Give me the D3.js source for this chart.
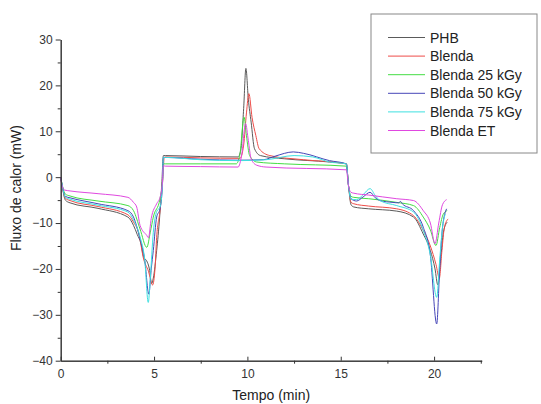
<!DOCTYPE html>
<html>
<head>
<meta charset="utf-8">
<script src="https://cdn.jsdelivr.net/npm/d3@7"></script>
<style>
  body { margin: 0; background: #fff; }
  svg { font-family: "Liberation Sans", Arial, sans-serif; }
</style>
</head>
<body>
<svg id="chart" width="541" height="404"></svg>
<script>
// DSC curves, [tempo (min), fluxo (mW)]
const phb = [[0,0],[0.1,-2.5],[0.25,-5.0],[0.5,-5.6],[2,-6.8],[3.6,-8.7],[3.9,-10.5],[4.1,-12.5],[4.3,-14.5],[4.45,-17.5],[4.6,-18.2],[4.75,-20],[4.87,-23.2],[4.96,-22],[5.14,-16],[5.3,-8.7],[5.42,-1],[5.5,4.7],
  [5.6,4.7],[7.5,4.5],[9.5,4.4],[9.65,6],[9.8,15],[9.92,23.7],[10.05,17],[10.2,12],[10.38,6.2],[10.7,4.7],[12,4],[14.4,3.3],[15.3,2.9],
  [15.42,-2],[15.55,-6],[15.7,-6.5],[16.5,-6.9],[18,-7.4],[18.9,-8.7],[19.42,-12.4],[19.8,-16],[20.05,-20],[20.2,-23.5],[20.35,-18],[20.5,-12],[20.7,-9.8]];
const blenda = [[0,0],[0.1,-2.3],[0.25,-4.6],[0.5,-5.1],[2,-6.4],[3.6,-8.2],[3.9,-9.8],[4.2,-12.5],[4.42,-17.5],[4.7,-20.5],[4.92,-23.5],[5.05,-20],[5.14,-13.1],[5.32,-7.3],[5.45,-1.5],[5.55,4.3],
  [5.65,4.4],[7.5,4.2],[9.6,4.1],[9.8,7],[9.95,14],[10.08,18.2],[10.25,13],[10.45,9.1],[10.63,6.2],[11.2,4.7],[13,3.8],[15.3,2.9],
  [15.42,-2],[15.55,-5.5],[15.7,-5.8],[16.5,-6.3],[18,-6.9],[18.9,-8.4],[19.42,-11.6],[19.8,-15],[20.1,-19],[20.28,-22],[20.42,-16],[20.55,-11],[20.75,-9.1]];
const blenda25 = [[0,0],[0.1,-2],[0.25,-3.7],[0.5,-4.1],[2,-5.2],[3.6,-6.2],[3.9,-7.3],[4.25,-11.3],[4.61,-15.3],[4.8,-12],[4.96,-8.7],[5.32,-4.7],[5.45,-1],[5.5,2.9],
  [5.6,2.9],[7.5,2.9],[9.4,2.9],[9.6,5],[9.82,13.1],[9.95,9],[10.12,4.7],[10.5,3.3],[12,2.9],[15.3,2.4],
  [15.42,-2],[15.55,-4.2],[15.7,-4.4],[16.5,-4.7],[18,-5.5],[18.9,-6.2],[19.42,-8.7],[19.8,-11.5],[20.1,-14.9],[20.3,-11],[20.5,-8],[20.7,-7.3]];
const blenda50 = [[0,0],[0.1,-2.2],[0.25,-4.2],[0.5,-4.5],[2,-5.8],[3.6,-7.3],[3.9,-8.7],[4.25,-13.5],[4.5,-18],[4.72,-25.5],[4.85,-20],[4.96,-16],[5.14,-8.7],[5.32,-6.9],[5.45,-1.5],[5.5,4.3],
  [5.6,4.3],[7.5,3.9],[9.5,3.7],[10.85,3.8],[11.5,4.6],[12.46,5.5],[13,5.2],[14.4,3.6],[15.3,2.9],
  [15.42,-2],[15.55,-4.7],[15.85,-5.2],[16.2,-4.3],[16.57,-3.3],[16.85,-4.5],[17.1,-5.1],[17.8,-5.5],[18.1,-5.6],[18.2,-5.3],[18.3,-5.8],[18.9,-7.3],[19.42,-10.9],[19.8,-17],[20.14,-32],[20.3,-20],[20.45,-11],[20.67,-6.9]];
const blenda75 = [[0,0],[0.1,-2.2],[0.25,-4.4],[0.5,-4.8],[2,-6.1],[3.6,-7.6],[3.9,-9.3],[4.25,-13],[4.5,-18],[4.69,-27.3],[4.8,-22],[4.96,-12],[5.14,-7.5],[5.32,-6.5],[5.45,-1.5],[5.5,4.3],
  [5.6,4.3],[7.5,3.8],[9.5,3.6],[11,3.8],[12.5,4.7],[13.5,4.4],[14.4,3.3],[15.3,2.9],
  [15.42,-2],[15.55,-4.8],[15.85,-4.9],[16.2,-3.8],[16.57,-2.5],[16.85,-4],[17.1,-5.1],[18,-6.2],[18.9,-7.6],[19.42,-11.6],[19.8,-17],[20.14,-26.2],[20.3,-18],[20.45,-11],[20.6,-8]];
const blendaET = [[0,0],[0.05,-1.5],[0.2,-2.8],[0.5,-3.0],[2,-3.6],[3.6,-4.4],[3.9,-5.5],[4.07,-6.5],[4.25,-10.5],[4.61,-12.7],[4.7,-13.2],[4.85,-9],[5.14,-5.8],[5.32,-4.4],[5.45,-1],[5.5,2.5],
  [5.6,2.4],[7.5,2.3],[9.5,2.2],[9.7,5],[9.9,11.7],[10.05,8],[10.2,4],[10.5,2.6],[11,2.2],[15.3,1.6],
  [15.42,-2],[15.55,-3.3],[15.7,-3.5],[16.5,-3.9],[18,-4.7],[18.9,-5.1],[19.42,-7.3],[19.8,-10],[20.05,-14.5],[20.25,-10],[20.45,-6],[20.67,-4.9]];

const seriesNames = ["PHB", "Blenda", "Blenda 25 kGy", "Blenda 50 kGy", "Blenda 75 kGy", "Blenda ET"];
const seriesData = [phb, blenda, blenda25, blenda50, blenda75, blendaET];
const colors = ["#5a5a5a", "#ee4c48", "#44dd44", "#4646b8", "#3ee0e0", "#e048e0"];
const yTicks = [-40, -30, -20, -10, 0, 10, 20, 30];
const xTicks = [0, 5, 10, 15, 20];

const margin = {top: 39.5, left: 60.7, right: 541 - 481.7, bottom: 404 - 360.7};
const width = 541 - margin.left - margin.right;
const height = 404 - margin.top - margin.bottom;

const svg = d3.select("#chart");
const g = svg.append("g").attr("transform", `translate(${margin.left},${margin.top})`);

const x = d3.scaleLinear().domain([0, 22.55]).range([0, width]);
const y = d3.scaleLinear().domain([-40, 30]).range([height, 0]);

// curves
const line = d3.line().x(d => x(d[0])).y(d => y(d[1])).curve(d3.curveMonotoneX);
g.selectAll("path.curve")
  .data(seriesData)
  .enter().append("path")
  .attr("class", "curve")
  .attr("d", line)
  .attr("fill", "none")
  .attr("stroke", (d, i) => colors[i])
  .attr("stroke-width", 1);

// y axis
const yAxis = g.append("g").call(d3.axisLeft(y).tickValues(yTicks).tickSize(5).tickPadding(3).tickSizeOuter(0));
g.append("g").call(d3.axisLeft(y).tickValues(d3.range(-35, 30, 10)).tickSize(3).tickFormat("").tickSizeOuter(0));

// x axis: majors point inward, minors outward
const xAxis = g.append("g").attr("transform", `translate(0,${height})`)
  .call(d3.axisBottom(x).tickValues(xTicks).tickSize(-4).tickPadding(9).tickSizeOuter(0));
g.append("g").attr("transform", `translate(0,${height})`)
  .call(d3.axisBottom(x).tickValues([2.5, 7.5, 12.5, 17.5, 22.5]).tickSize(3).tickFormat("").tickSizeOuter(0));

g.selectAll(".domain, .tick line").attr("stroke", "#333");
g.selectAll(".tick text").attr("font-size", 12).attr("fill", "#333")
  .attr("font-family", "Liberation Sans, Arial, sans-serif");

// axis titles
svg.append("text")
  .attr("x", margin.left + width / 2).attr("y", 400)
  .attr("text-anchor", "middle").attr("font-size", 14).attr("fill", "#222")
  .text("Tempo (min)");
svg.append("text")
  .attr("transform", `translate(21,${margin.top + height / 2 - 12}) rotate(-90)`)
  .attr("text-anchor", "middle").attr("font-size", 14).attr("fill", "#222")
  .text("Fluxo de calor (mW)");

// legend
const legend = svg.append("g").attr("transform", "translate(371,14)");
legend.append("rect").attr("width", 166).attr("height", 139)
  .attr("fill", "#fff").attr("stroke", "#888").attr("stroke-width", 1);
seriesNames.forEach((name, i) => {
  const ly = 23.5 + i * 18.6;
  legend.append("line").attr("x1", 17).attr("x2", 54).attr("y1", ly).attr("y2", ly)
    .attr("stroke", colors[i]).attr("stroke-width", 1);
  legend.append("text").attr("x", 59).attr("y", ly + 5)
    .attr("font-size", 14).attr("fill", "#222").text(name);
});
</script>
</body>
</html>
